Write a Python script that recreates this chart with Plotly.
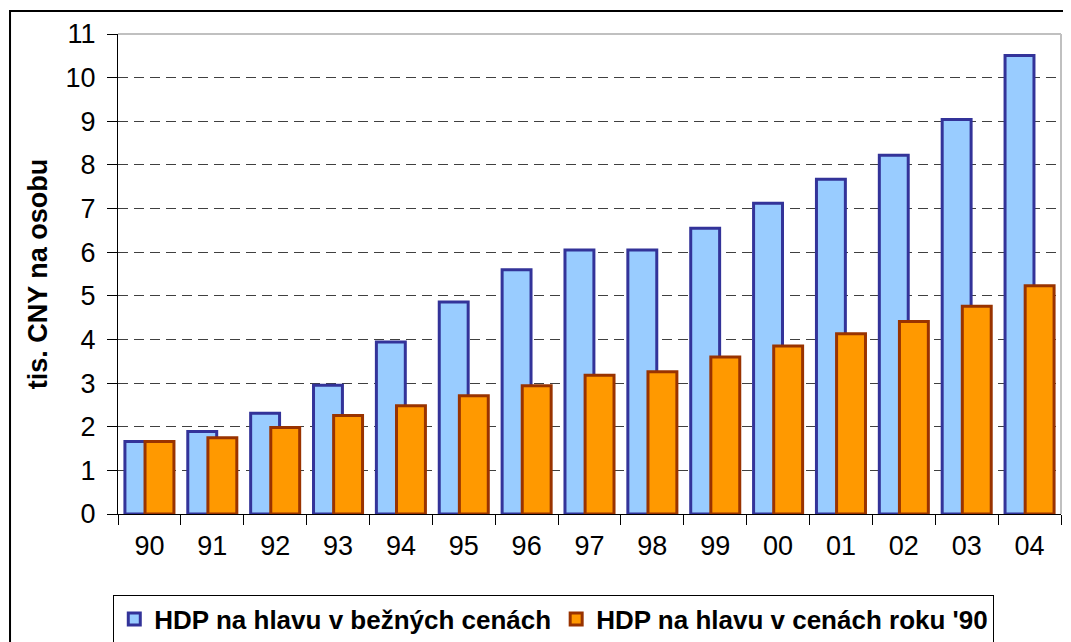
import plotly.graph_objects as go

# years (two-digit labels) and GDP per capita, thousand CNY
years = ['90', '91', '92', '93', '94', '95', '96', '97', '98', '99',
         '00', '01', '02', '03', '04']
gdp_current = [1.66, 1.89, 2.31, 2.95, 3.94, 4.86, 5.60, 6.05, 6.05, 6.55,
               7.12, 7.67, 8.22, 9.04, 10.51]
gdp_1990 = [1.66, 1.75, 1.98, 2.26, 2.48, 2.71, 2.94, 3.18, 3.26, 3.60,
            3.85, 4.13, 4.41, 4.76, 5.23]

font_family = "Liberation Sans, Arial, sans-serif"

fig = go.Figure()

fig.add_trace(go.Bar(
    x=years, y=gdp_current, name="HDP na hlavu v bežných cenách",
    width=0.46, offset=-0.39,
    marker=dict(color="#99CCFF", line=dict(color="#333399", width=3)),
))
fig.add_trace(go.Bar(
    x=years, y=gdp_1990, name="HDP na hlavu v cenách roku '90",
    width=0.46, offset=-0.07,
    marker=dict(color="#FF9900", line=dict(color="#993300", width=3)),
))

fig.update_xaxes(
    type="category", tickson="boundaries", ticks="outside", ticklen=10,
    tickcolor="black", showline=True, linecolor="black", linewidth=1,
    tickfont=dict(size=27, color="black"), showgrid=False,
    range=[-0.5, 14.5], ticklabelstandoff=8,
)
fig.update_yaxes(
    range=[0, 11], dtick=1, ticks="outside", ticklen=10, tickcolor="black",
    showline=True, linecolor="black", linewidth=1,
    tickfont=dict(size=27, color="black"),
    showgrid=True, gridcolor="#404040", gridwidth=1, griddash="10px,6px",
    zeroline=False, ticklabelstandoff=6,
    title=dict(text="<b>tis. CNY na osobu</b>", font=dict(size=27, color="black"),
               standoff=10),
)

# page body has an 8px margin, so the figure is sized to fit the window
fig.update_layout(
    barmode="overlay",
    width=1063, height=634,
    margin=dict(l=110, r=10, t=26, b=128, autoexpand=False),
    paper_bgcolor="white", plot_bgcolor="white",
    font=dict(family=font_family, color="black"),
    showlegend=True,
    legend=dict(
        orientation="h", x=-0.005, xanchor="left", y=-0.168, yanchor="top",
        font=dict(size=26, color="black", weight="bold"),
        bordercolor="black", borderwidth=1, bgcolor="white",
        itemwidth=30, traceorder="normal",
    ),
    shapes=[
        # plot area frame (top and right)
        dict(type="line", xref="paper", yref="paper", x0=0, x1=1, y0=1, y1=1,
             line=dict(color="#C0C0C0", width=2)),
        dict(type="line", xref="paper", yref="paper", x0=1, x1=1, y0=0, y1=1,
             line=dict(color="#C0C0C0", width=2)),
        # chart border
        dict(type="rect", xref="paper", yref="paper",
             x0=-0.1145, x1=1.05, y0=-0.35, y1=1.0478,
             line=dict(color="black", width=2), layer="below"),
    ],
)

fig.write_html("out.html")
